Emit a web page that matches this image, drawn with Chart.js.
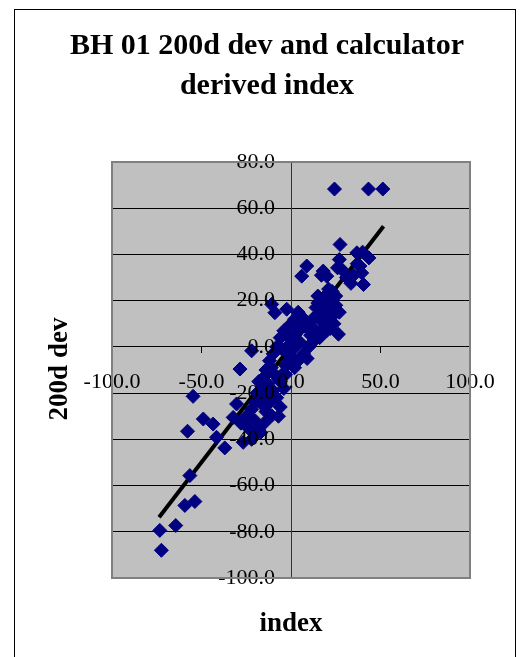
<!DOCTYPE html>
<html>
<head>
<meta charset="utf-8">
<script src="https://cdn.jsdelivr.net/npm/chart.js@4/dist/chart.umd.min.js"></script>
<style>
  body { margin: 0; background: #fff; }
  canvas { display: block; }
</style>
</head>
<body>
<canvas id="graph" width="520" height="657"></canvas>
<script>
const titleLines = ['BH 01 200d dev and calculator', 'derived index'];
const xTitle = 'index';
const yTitle = '200d dev';

// calculator derived index (x) and 200d dev (y)
const indexX = [
  24.3, 43.3, 51.3, 27.4, 27.0, 26.0, 36.8, 40.0, 43.5, 38.5,
  39.5, 40.5, 33.5, 31.0, 35.0, 8.8, 6.0, 18.0, 20.0, 17.0,
  21.0, 19.0, 23.0, 25.0, 27.0, 22.0, 18.0, 15.0, 14.0, 16.0,
  20.0, 24.0, 20.0, 26.5, 14.0, 13.0, 11.0, 9.0, 8.0, 6.0,
  4.0, 2.0, 0.0, -2.4, -9.0, -10.8, -4.0, -6.0, -2.0, 1.0,
  3.0, 5.0, 7.0, 9.0, 4.0, 2.0, 0.0, -3.0, -5.0, -8.0,
  -22.0, -28.5, -10.0, -12.0, -14.0, -15.0, -13.0, -16.0, -18.0, -19.0,
  -17.0, -20.0, -22.0, -10.0, -8.0, -12.0, -7.0, -14.0, -15.0, -18.0,
  -20.0, -22.0, -26.7, -30.4, -32.3, -28.0, -24.0, -25.0, -54.7, -57.8,
  -49.0, -43.5, -41.6, -37.0, -56.5, -59.3, -53.7, -64.4, -73.3, -72.4,
  5.0, 10.0, 12.0, 15.0, 17.0, 19.0, 21.0, 23.0, 25.0, -1.0,
  1.0, -3.0, -5.0, -6.0, -4.0, -9.0, -11.0, -3.0, 12.0, 10.0,
  7.0, 3.0, -1.0, 16.0, 18.0, 22.0, -7.0, -16.0, -11.8, -10.8,
  -20.0, -17.0, 29.0, 37.0, 15.0, 20.0, 24.0, 17.0, -6.0, -13.0
];
const devY = [
  68.3, 68.3, 68.3, 44.3, 37.8, 34.2, 40.7, 41.0, 38.5, 35.0,
  32.0, 27.0, 27.5, 30.0, 31.0, 35.0, 30.6, 32.8, 30.6, 31.0,
  25.0, 22.0, 20.0, 18.0, 15.0, 14.0, 16.0, 19.0, 17.0, 12.0,
  10.0, 10.0, 7.0, 5.5, 7.0, 3.0, 5.0, 8.0, 11.0, 13.0,
  15.0, 12.0, 10.0, 16.3, 14.8, 18.4, 7.0, 4.0, 5.0, 3.0,
  1.0, 2.0, -3.0, -5.0, -6.0, -9.0, -4.0, -2.0, -1.0, 0.0,
  -1.7, -9.6, -3.0, -6.0, -10.0, -13.0, -16.0, -18.0, -15.0, -20.0,
  -22.0, -24.0, -27.0, -19.0, -22.0, -24.0, -30.0, -28.0, -33.0, -36.0,
  -38.0, -40.0, -41.3, -24.7, -30.5, -33.0, -35.0, -30.0, -21.4, -36.5,
  -31.2, -33.4, -39.1, -43.7, -55.7, -68.6, -66.9, -77.3, -79.4, -88.0,
  8.0, 10.0, 12.0, 14.0, 20.0, 18.0, 12.0, 24.0, 22.0, 1.0,
  -1.0, -8.0, -12.0, -15.0, -18.0, -12.0, -9.0, -12.0, 2.0, 0.0,
  10.0, 6.0, -6.0, 4.0, 8.0, 8.0, -14.0, -25.0, -24.0, -29.8,
  -32.0, -37.0, 33.0, 36.0, 22.0, 16.0, 14.0, 6.0, -26.0, -20.0
];

// end points of the linear trend line
const trendX = [-73.7, 51.7];
const trendY = [-73.7, 52.2];

const xTicks = [-100, -50, 0, 50, 100];
const yMin = -100, yMax = 80, yStep = 20;

const serif = "'Liberation Serif', 'Times New Roman', serif";

const points = indexX.map((x, i) => ({ x: x, y: devY[i] }));
const trend = trendX.map((x, i) => ({ x: x, y: trendY[i] }));

// grey plot area, outer frame, title and axis titles
const excelLook = {
  id: 'excelLook',
  afterUpdate(chart) {
    // y labels of an axis placed at x = 0 ignore padding, push them left
    chart.scales.y.getLabelItems().forEach(it => { it.options.translation[0] -= 16; });
  },
  beforeDraw(chart) {
    const { ctx, chartArea: a } = chart;
    ctx.save();
    ctx.fillStyle = '#C0C0C0';
    ctx.fillRect(a.left, a.top, a.right - a.left, a.bottom - a.top);
    ctx.restore();
  },
  afterDraw(chart) {
    const { ctx, chartArea: a } = chart;
    ctx.save();
    ctx.strokeStyle = '#808080';
    ctx.lineWidth = 2;
    ctx.strokeRect(a.left, a.top, a.right - a.left, a.bottom - a.top);

    ctx.strokeStyle = '#000';
    ctx.lineWidth = 1;
    ctx.strokeRect(14.5, 9.5, 501, 700);

    ctx.fillStyle = '#000';
    ctx.textAlign = 'center';
    ctx.textBaseline = 'alphabetic';
    ctx.font = 'bold 30px ' + serif;
    titleLines.forEach((t, i) => ctx.fillText(t, 267, 54 + i * 40));

    ctx.font = 'bold 27px ' + serif;
    ctx.fillText(xTitle, 291, 631);
    ctx.translate(67, 369);
    ctx.rotate(-Math.PI / 2);
    ctx.fillText(yTitle, 0, 0);
    ctx.restore();
  }
};

const tickFont = { family: serif, size: 22 };
const fmt = (v) => Number(v).toFixed(1);

new Chart(document.querySelector('#graph'), {
  type: 'scatter',
  data: {
    datasets: [
      {
        label: yTitle,
        data: points,
        pointStyle: 'rectRot',
        pointRadius: 7,
        pointHoverRadius: 7,
        backgroundColor: '#000080',
        borderColor: '#000080',
        borderWidth: 1
      },
      {
        label: 'trend',
        type: 'line',
        data: trend,
        borderColor: '#000',
        borderWidth: 4,
        pointRadius: 0,
        fill: false
      }
    ]
  },
  options: {
    responsive: false,
    animation: false,
    layout: { padding: { left: 112, right: 50, top: 162, bottom: 79 } },
    plugins: {
      legend: { display: false },
      title: { display: false },
      tooltip: { enabled: false }
    },
    scales: {
      // grid lines and the vertical axis line, under the points
      yGrid: {
        type: 'linear',
        axis: 'y',
        position: { x: 0 },
        min: yMin,
        max: yMax,
        border: { color: '#333', width: 1 },
        grid: { color: '#000', lineWidth: 1, drawTicks: false },
        ticks: { stepSize: yStep, display: false }
      },
      // tick marks and labels, labels drawn above the points
      x: {
        type: 'linear',
        position: { y: 0 },
        min: -100,
        max: 100,
        afterBuildTicks: (s) => { s.ticks = xTicks.map(v => ({ value: v })); },
        border: { display: false },
        grid: { drawOnChartArea: false, drawTicks: true, tickLength: 6, color: '#000' },
        ticks: {
          z: 1,
          autoSkip: false,
          maxRotation: 0,
          padding: 16,
          color: '#000',
          font: tickFont,
          callback: fmt
        }
      },
      y: {
        type: 'linear',
        position: { x: 0 },
        min: yMin,
        max: yMax,
        border: { display: false },
        grid: { drawOnChartArea: false, drawTicks: true, tickLength: 6, color: '#000' },
        ticks: {
          z: 1,
          stepSize: yStep,
          autoSkip: false,
          color: '#000',
          font: tickFont,
          callback: fmt
        }
      }
    }
  },
  plugins: [excelLook]
});
</script>
</body>
</html>
